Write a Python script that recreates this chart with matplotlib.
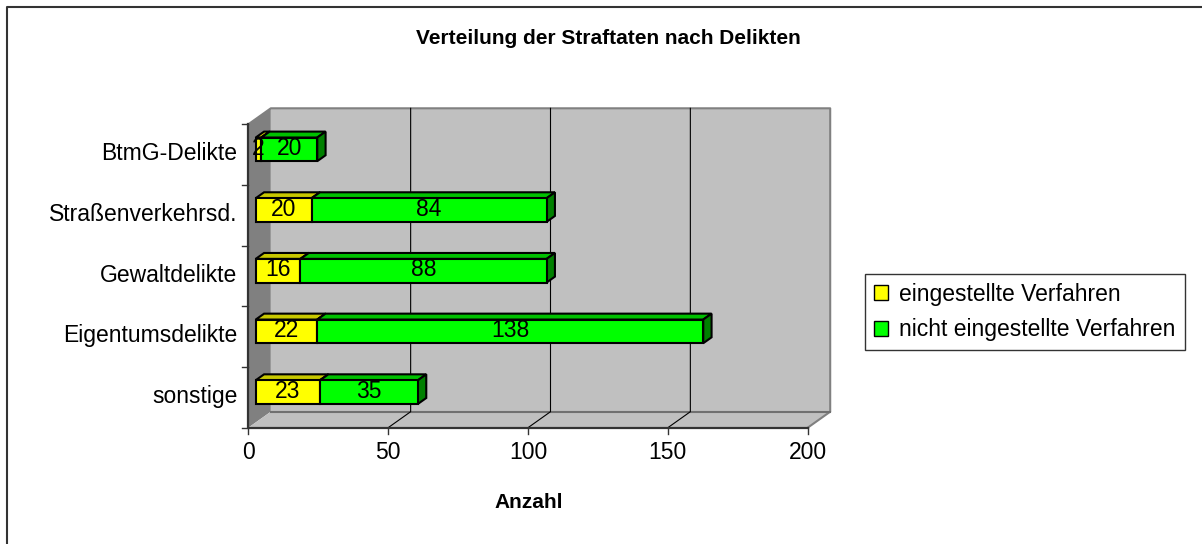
import matplotlib
matplotlib.use("Agg")
import matplotlib.pyplot as plt
from matplotlib.patches import Polygon, Patch
from matplotlib.lines import Line2D
import numpy as np

plt.rcParams['font.family'] = ['Liberation Sans', 'DejaVu Sans']

# data (bottom to top)
categories = ['sonstige', 'Eigentumsdelikte', 'Gewaltdelikte', 'Straßenverkehrsd.', 'BtmG-Delikte']
eingestellt = [23, 22, 16, 20, 2]
nicht_eingestellt = [35, 138, 88, 84, 20]
x_ticks = [0, 50, 100, 150, 200]

title = 'Verteilung der Straftaten nach Delikten'
x_label = 'Anzahl'
legend_labels = ['eingestellte Verfahren', 'nicht eingestellte Verfahren']

# styling
DEPTH = np.array([22.5, 16.0])      # full depth offset in pixels (x right, y up)
BAR_D0, BAR_D1 = 0.33, 0.70         # bar depth range as fraction of full depth
BAR_H = 0.195                       # half bar height in category units
colors = {
    'yellow': ('#ffff00', '#c8c800', '#999900'),
    'green': ('#00ff00', '#00c000', '#008000'),
}
WALL = '#c0c0c0'
SIDE_WALL = '#808080'
FS = 16.5

W, H, DPI = 1202, 544, 100
fig = plt.figure(figsize=(W / DPI, H / DPI), dpi=DPI)
ax = fig.add_axes([248.3 / W, (H - 427.7) / H, 559.4 / W, 303.4 / H])
ax.set_xlim(0, 200)
ax.set_ylim(-0.5, len(categories) - 0.5)
ax.axis('off')

n = len(categories)
y_lo, y_hi = -0.5, n - 0.5


def disp(x, y, d=0.0):
    """data point -> display pixel, shifted d of the full depth"""
    p = ax.transData.transform((x, y))
    return p + DEPTH * d


def poly(points, fc, ec='none', lw=0.0, z=1):
    p = Polygon(np.array(points), closed=True, facecolor=fc, edgecolor=ec,
                linewidth=lw, transform=None, zorder=z)
    fig.add_artist(p)


def line(points, color, lw, z=2):
    pts = np.array(points)
    fig.add_artist(Line2D(pts[:, 0], pts[:, 1], color=color, linewidth=lw,
                          transform=None, zorder=z))


# walls and floor
poly([disp(0, y_lo, 1), disp(200, y_lo, 1), disp(200, y_hi, 1), disp(0, y_hi, 1)], WALL, z=1)
poly([disp(0, y_lo, 0), disp(0, y_lo, 1), disp(0, y_hi, 1), disp(0, y_hi, 0)], SIDE_WALL, z=1)
poly([disp(0, y_lo, 0), disp(200, y_lo, 0), disp(200, y_lo, 1), disp(0, y_lo, 1)], WALL, z=1)

# wall edges
line([disp(0, y_hi, 0), disp(0, y_hi, 1), disp(200, y_hi, 1), disp(200, y_lo, 1),
      disp(200, y_lo, 0)], '#808080', 1.5)
line([disp(0, y_lo, 1), disp(200, y_lo, 1)], '#707070', 1.5)

# gridlines
for xv in x_ticks[1:-1]:
    line([disp(xv, y_lo, 0), disp(xv, y_lo, 1), disp(xv, y_hi, 1)], '#000000', 0.8)

# axes lines and ticks
line([disp(0, y_hi, 0), disp(0, y_lo, 0), disp(200, y_lo, 0)], '#333333', 1.6, z=3)
for xv in x_ticks:
    p = disp(xv, y_lo, 0)
    line([p, p + [0, -6]], '#333333', 1.0, z=3)
    fig.text(p[0] / W, (p[1] - 25) / H, str(xv), ha='center', va='center',
             fontsize=FS, color='black')
for yb in np.arange(y_lo, y_hi + 0.01, 1.0):
    p = disp(0, yb, 0)
    line([p + [-6, 0], p], '#333333', 1.0, z=3)
for i, cat in enumerate(categories):
    p = disp(0, i, 0)
    fig.text((p[0] - 11) / W, (p[1] + 1) / H, cat, ha='right', va='center',
             fontsize=FS, color='black')


def bar3d(y, left, width, cset):
    front, top, side = cset
    x0, x1 = left, left + width
    a, b = BAR_D0, BAR_D1
    kw = dict(ec='black', lw=1.5, z=5)
    poly([disp(x0, y + BAR_H, a), disp(x1, y + BAR_H, a), disp(x1, y + BAR_H, b),
          disp(x0, y + BAR_H, b)], top, **kw)
    poly([disp(x1, y - BAR_H, a), disp(x1, y - BAR_H, b), disp(x1, y + BAR_H, b),
          disp(x1, y + BAR_H, a)], side, **kw)
    poly([disp(x0, y - BAR_H, a), disp(x1, y - BAR_H, a), disp(x1, y + BAR_H, a),
          disp(x0, y + BAR_H, a)], front, **kw)
    c = disp((x0 + x1) / 2, y, a)
    fig.text(c[0] / W, (c[1] + 1) / H, str(width), ha='center', va='center',
             fontsize=FS, color='black', zorder=6)


for i in range(n):
    bar3d(i, 0, eingestellt[i], colors['yellow'])
    bar3d(i, eingestellt[i], nicht_eingestellt[i], colors['green'])

# title, axis label, border
fig.text(608 / W, 1 - 38 / H, title, ha='center', va='center', fontsize=15,
         fontweight='bold')
fig.text(529 / W, 1 - 503 / H, x_label, ha='center', va='center', fontsize=15,
         fontweight='bold')
fig.add_artist(Line2D([7 / W, 7 / W, 1.0], [0.0, 1 - 7 / H, 1 - 7 / H],
                      color='#333333', linewidth=1.5, transform=fig.transFigure))

handles = [Patch(facecolor=colors['yellow'][0], edgecolor='black'),
           Patch(facecolor=colors['green'][0], edgecolor='black')]
leg = fig.legend(handles, legend_labels, loc='center left',
                 bbox_to_anchor=(865 / W, 1 - 312 / H), fontsize=FS,
                 frameon=True, fancybox=False, edgecolor='black',
                 handlelength=0.6, handleheight=0.6, handletextpad=0.5,
                 borderpad=0.4, labelspacing=0.55, borderaxespad=0)
leg.get_frame().set_linewidth(1.0)

fig.savefig('out.png', dpi=DPI)
